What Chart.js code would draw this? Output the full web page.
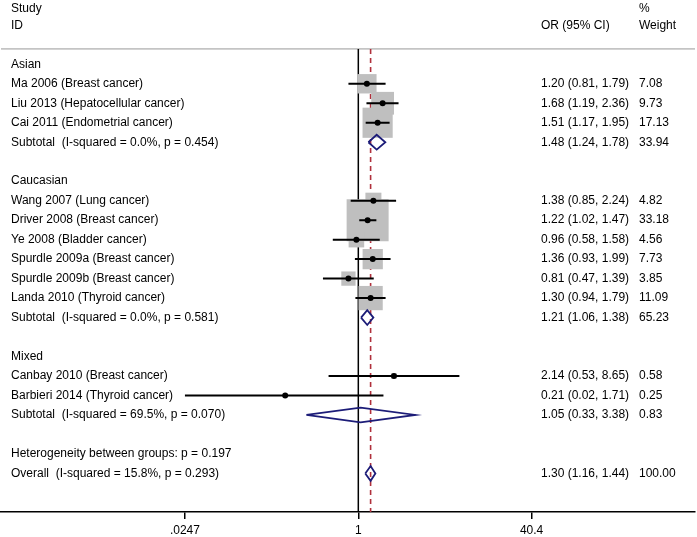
<!DOCTYPE html>
<html><head><meta charset="utf-8">
<script src="https://cdn.jsdelivr.net/npm/chart.js@4.4.1/dist/chart.umd.min.js"></script>
<style>html,body{margin:0;padding:0;background:#fff;}canvas{display:block;}</style>
</head><body>
<canvas id="c" width="697" height="537"></canvas>
<script>
// ---------- data ----------
const groupNames = ["Asian", "Caucasian", "Mixed"];
const studyNames = [
  "Ma 2006 (Breast cancer)", "Liu 2013 (Hepatocellular cancer)", "Cai 2011 (Endometrial cancer)",
  "Wang 2007 (Lung cancer)", "Driver 2008 (Breast cancer)", "Ye 2008 (Bladder cancer)",
  "Spurdle 2009a (Breast cancer)", "Spurdle 2009b (Breast cancer)", "Landa 2010 (Thyroid cancer)",
  "Canbay 2010 (Breast cancer)", "Barbieri 2014 (Thyroid cancer)"
];
const studyGroup  = [0, 0, 0, 1, 1, 1, 1, 1, 1, 2, 2];
const studyOR     = [1.20, 1.68, 1.51, 1.38, 1.22, 0.96, 1.36, 0.81, 1.30, 2.14, 0.21];
const studyLo     = [0.81, 1.19, 1.17, 0.85, 1.02, 0.58, 0.93, 0.47, 0.94, 0.53, 0.02];
const studyHi     = [1.79, 2.36, 1.95, 2.24, 1.47, 1.58, 1.99, 1.39, 1.79, 8.65, 1.71];
const studyWeight = [7.08, 9.73, 17.13, 4.82, 33.18, 4.56, 7.73, 3.85, 11.09, 0.58, 0.25];

const subtotalLabels = [
  "Subtotal  (I-squared = 0.0%, p = 0.454)",
  "Subtotal  (I-squared = 0.0%, p = 0.581)",
  "Subtotal  (I-squared = 69.5%, p = 0.070)"
];
const subtotalOR     = [1.48, 1.21, 1.05];
const subtotalLo     = [1.24, 1.06, 0.33];
const subtotalHi     = [1.78, 1.38, 3.38];
const subtotalWeight = [33.94, 65.23, 0.83];

const heterogeneityLabel = "Heterogeneity between groups: p = 0.197";
const overallLabel  = "Overall  (I-squared = 15.8%, p = 0.293)";
const overallOR     = [1.30];
const overallLo     = [1.16];
const overallHi     = [1.44];
const overallWeight = [100.00];

const xTicks      = [0.0247, 1, 40.4];
const xTickLabels = [".0247", "1", "40.4"];

// ---------- layout of rows ----------
const rows = [];
let r = 0;
const studyRow = [], subtotalRow = [], groupRow = [];
groupNames.forEach((g, gi) => {
  groupRow.push(r); rows.push({row: r, text: g}); r++;
  studyGroup.forEach((sg, si) => {
    if (sg === gi) { studyRow[si] = r; rows.push({row: r, text: studyNames[si], or: studyOR[si], lo: studyLo[si], hi: studyHi[si], w: studyWeight[si]}); r++; }
  });
  subtotalRow[gi] = r;
  rows.push({row: r, text: subtotalLabels[gi], or: subtotalOR[gi], lo: subtotalLo[gi], hi: subtotalHi[gi], w: subtotalWeight[gi]});
  r += 2;
});
const hetRow = r; rows.push({row: r, text: heterogeneityLabel}); r++;
const overallRow = r;
rows.push({row: r, text: overallLabel, or: overallOR[0], lo: overallLo[0], hi: overallHi[0], w: overallWeight[0]});

const Y_MIN = -3.30, Y_MAX = 22.98;
const SEP_ROW = -0.79;
const X_MIN = 0.000487, X_MAX = 1322;
const FONT = "'Liberation Sans', Arial, sans-serif";
const DIAMOND_H = 0.38;

const clipX = v => Math.min(Math.max(v, xTicks[0]), xTicks[xTicks.length - 1]);

const ciData = [];
studyNames.forEach((n, i) => {
  ciData.push({x: clipX(studyLo[i]), y: studyRow[i]}, {x: clipX(studyHi[i]), y: studyRow[i]}, {x: null, y: null});
});
const diamondData = [];
function addDiamond(or, lo, hi, row) {
  diamondData.push({x: lo, y: row}, {x: or, y: row - DIAMOND_H}, {x: hi, y: row}, {x: or, y: row + DIAMOND_H}, {x: lo, y: row}, {x: null, y: null});
}
subtotalOR.forEach((v, i) => addDiamond(v, subtotalLo[i], subtotalHi[i], subtotalRow[i]));
addDiamond(overallOR[0], overallLo[0], overallHi[0], overallRow);

const studyPoints = studyNames.map((n, i) => ({x: studyOR[i], y: studyRow[i]}));
const boxSide = w => 7.29 * Math.sqrt(w);

const textPlugin = {
  id: 'forestText',
  afterDatasetsDraw(chart) {
    const ctx = chart.ctx, ys = chart.scales.y;
    ctx.save();
    ctx.fillStyle = '#000';
    ctx.font = "12px " + FONT;
    ctx.textBaseline = 'middle';
    ctx.textAlign = 'left';
    const colL = 11, colOR = 541, colW = 639;
    ctx.fillText("Study", colL, ys.getPixelForValue(-2.87));
    ctx.fillText("ID", colL, ys.getPixelForValue(-1.98));
    ctx.fillText("%", colW, ys.getPixelForValue(-2.87));
    ctx.fillText("OR (95% CI)", colOR, ys.getPixelForValue(-1.98));
    ctx.fillText("Weight", colW, ys.getPixelForValue(-1.98));
    rows.forEach(o => {
      const y = ys.getPixelForValue(o.row);
      ctx.fillText(o.text, colL, y);
      if (o.or !== undefined) {
        ctx.fillText(`${o.or.toFixed(2)} (${o.lo.toFixed(2)}, ${o.hi.toFixed(2)})`, colOR, y);
        ctx.fillText(o.w.toFixed(2), colW, y);
      }
    });
    ctx.restore();
  }
};

new Chart(document.getElementById('c'), {
  type: 'scatter',
  data: {
    datasets: [
      { label: 'separator', data: [{x: X_MIN, y: SEP_ROW}, {x: X_MAX, y: SEP_ROW}], showLine: true,
        borderColor: '#c4c4c4', borderWidth: 1.6, pointRadius: 0, order: 12 },
      { label: 'null line', data: [{x: 1, y: SEP_ROW}, {x: 1, y: Y_MAX}], showLine: true,
        borderColor: '#000', borderWidth: 1.5, pointRadius: 0, order: 11 },
      { label: 'overall line', data: [{x: overallOR[0], y: SEP_ROW}, {x: overallOR[0], y: Y_MAX}], showLine: true,
        borderColor: '#b0303c', borderWidth: 1.6, borderDash: [5, 4], pointRadius: 0, order: 10 },
      { label: 'boxes', data: studyPoints, pointStyle: 'rect',
        pointRadius: c => boxSide(studyWeight[c.dataIndex]) / Math.SQRT2,
        backgroundColor: '#bfbfbf', borderWidth: 0, order: 5 },
      { label: 'ci', data: ciData, showLine: true, spanGaps: false, borderColor: '#000', borderWidth: 2,
        pointRadius: 0, order: 2 },
      { label: 'points', data: studyPoints, pointStyle: 'circle', pointRadius: 3,
        backgroundColor: '#000', borderWidth: 0, order: 1 },
      { label: 'diamonds', data: diamondData, showLine: true, spanGaps: false, borderColor: '#1c1c78',
        borderWidth: 1.8, pointRadius: 0, fill: false, order: 0 }
    ]
  },
  options: {
    responsive: false,
    animation: false,
    events: [],
    layout: {autoPadding: false, padding: {left: 1, right: 2, top: 0, bottom: 0}},
    plugins: {legend: {display: false}, tooltip: {enabled: false}},
    scales: {
      x: {
        type: 'logarithmic', min: X_MIN, max: X_MAX, position: 'bottom',
        afterBuildTicks: s => { s.ticks = xTicks.map(v => ({value: v})); },
        afterFit: s => { s.height = 25; s.paddingLeft = 0; s.paddingRight = 0; },
        ticks: {autoSkip: false, maxRotation: 0, color: '#000', padding: 4,
          font: {family: FONT, size: 12}, callback: (v, i) => xTickLabels[i]},
        grid: {drawOnChartArea: false, drawTicks: true, tickLength: 7, color: '#000', lineWidth: 1.5},
        border: {display: true, color: '#000', width: 1.6}
      },
      y: {type: 'linear', reverse: true, min: Y_MIN, max: Y_MAX, display: false}
    }
  },
  plugins: [textPlugin]
});
</script>
</body></html>
